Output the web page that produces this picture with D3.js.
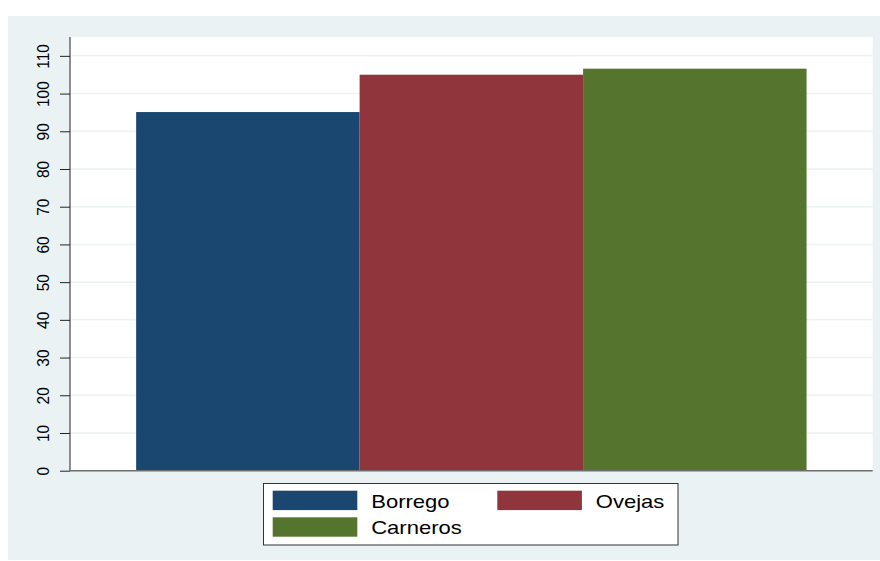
<!DOCTYPE html>
<html><head><meta charset="utf-8">
<script src="https://cdn.jsdelivr.net/npm/d3@7"></script>
<style>body{margin:0;background:#fff}svg{display:block}</style>
</head><body><svg id="c" width="880" height="561"></svg>
<script>
const series = ["Borrego", "Ovejas", "Carneros"];
const values = [95.1, 105.0, 106.6];
const colors = ["#1a476f", "#90353b", "#55752f"];
const yTicks = [0, 10, 20, 30, 40, 50, 60, 70, 80, 90, 100, 110];

const svg = d3.select("#c");
svg.append("rect").attr("x", 8).attr("y", 16).attr("width", 872).attr("height", 544).attr("fill", "#eaf2f3");

const L = 70, R = 872.7, T = 37, B = 470.7;
svg.append("rect").attr("x", L).attr("y", T).attr("width", R - L).attr("height", B - T).attr("fill", "#fff");

const y = d3.scaleLinear().domain([0, 115]).range([B, T]);
const x = d3.scaleBand().domain(series).range([L, R]).paddingInner(0).paddingOuter(0.296);

// grid
svg.append("g").selectAll("line").data(yTicks.filter(d => d > 0)).join("line")
  .attr("x1", L).attr("x2", R).attr("y1", d => y(d)).attr("y2", d => y(d))
  .attr("stroke", "#eaf2f3").attr("stroke-width", 1.5);

// bars
svg.append("g").selectAll("rect").data(series).join("rect")
  .attr("x", d => x(d)).attr("width", x.bandwidth())
  .attr("y", (d, i) => y(values[i])).attr("height", (d, i) => B - y(values[i]))
  .attr("fill", (d, i) => colors[i]);

// y axis
const ax = svg.append("g").attr("transform", `translate(${L},0)`)
  .call(d3.axisLeft(y).tickValues(yTicks).tickSize(10).tickPadding(0).tickFormat(d3.format("d")));
ax.select(".domain").remove();
ax.selectAll(".tick line").attr("stroke", "#222");
ax.selectAll(".tick text").remove();
ax.selectAll(".tick").append("text")
  .attr("transform", "translate(-21,0) rotate(-90) scale(1,1.08)")
  .attr("text-anchor", "middle").attr("dy", "0")
  .attr("fill", "#000").attr("font-family", "Liberation Sans, Arial, sans-serif").attr("font-size", 15.5)
  .text(d => d);
svg.append("line").attr("x1", L).attr("x2", L).attr("y1", T).attr("y2", B).attr("stroke", "#222").attr("stroke-width", 1);
svg.append("line").attr("x1", L).attr("x2", R).attr("y1", B).attr("y2", B).attr("stroke", "#6e6e6e").attr("stroke-width", 1.6);

// legend
const lg = svg.append("g");
lg.append("rect").attr("x", 263.5).attr("y", 483.5).attr("width", 414.5).attr("height", 61.5)
  .attr("fill", "#fff").attr("stroke", "#333").attr("stroke-width", 1);
const pos = [[272.7, 490.7], [497.3, 490.7], [272.7, 517.3]];
series.forEach((s, i) => {
  const [px, py] = pos[i];
  lg.append("rect").attr("x", px).attr("y", py).attr("width", 84.6).attr("height", 19.4).attr("fill", colors[i]);
  lg.append("text").attr("transform", `translate(${px + 98.5},${py + 16.8}) scale(1.16,1)`)
    .attr("font-family", "Liberation Sans, Arial, sans-serif").attr("font-size", 19).attr("fill", "#000").text(s);
});
</script></body></html>
